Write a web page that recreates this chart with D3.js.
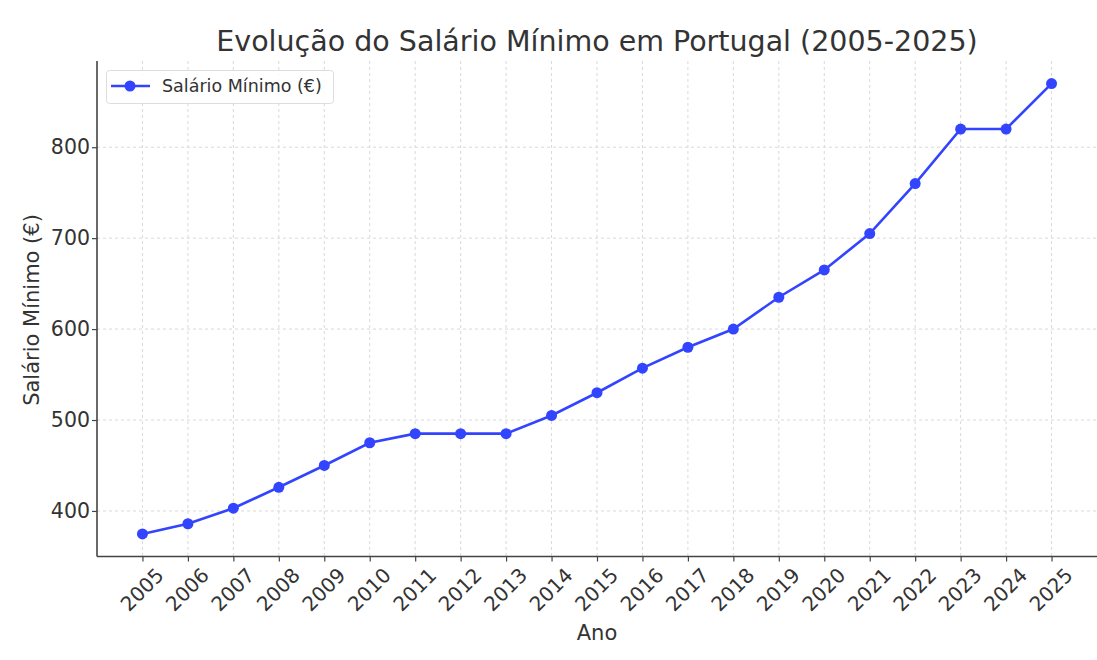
<!DOCTYPE html>
<html><head><meta charset="utf-8">
<script src="https://cdn.jsdelivr.net/npm/d3@7"></script>
<style>body{margin:0;background:#fff}svg{display:block}text{font-family:"DejaVu Sans",sans-serif;fill:#333}</style>
</head><body><svg id="c" width="1097" height="660"></svg>
<script>
const years = [2005,2006,2007,2008,2009,2010,2011,2012,2013,2014,2015,2016,2017,2018,2019,2020,2021,2022,2023,2024,2025];
const salario = [374.7,385.9,403,426,450,475,485,485,485,505,530,557,580,600,635,665,705,760,820,820,870];
const yTicks = [400,500,600,700,800];
const title = "Evolução do Salário Mínimo em Portugal (2005-2025)";
const seriesName = "Salário Mínimo (€)";
const xLabel = "Ano", yLabel = "Salário Mínimo (€)";

const svg = d3.select("#c");
const L=97,R=1097,T=61,B=556.5;
const x = d3.scaleLinear().domain([2004,2026]).range([L,R]);
const y = d3.scaleLinear().domain([349.9,894.8]).range([B,T]);
const color="#3344ff";

// grid
svg.append("g").selectAll("line").data(years).join("line")
 .attr("x1",d=>x(d)).attr("x2",d=>x(d)).attr("y1",T).attr("y2",B)
 .attr("stroke","#d9d9d9").attr("stroke-dasharray","3,3").attr("stroke-width",1);
svg.append("g").selectAll("line").data(yTicks).join("line")
 .attr("x1",L).attr("x2",R).attr("y1",d=>y(d)).attr("y2",d=>y(d))
 .attr("stroke","#d9d9d9").attr("stroke-dasharray","3,3").attr("stroke-width",1);

// axes
const xa = svg.append("g").attr("transform",`translate(0,${B})`)
 .call(d3.axisBottom(x).tickValues(years).tickFormat(d3.format("d")).tickSizeOuter(0).tickSize(5));
xa.select(".domain").attr("stroke","#444").attr("stroke-width",1.6).attr("d",`M${L},0H${R}`);
xa.selectAll(".tick line").attr("stroke","#444").attr("stroke-width",1.2);
xa.selectAll(".tick text").attr("font-size",20).attr("fill","#333")
 .attr("text-anchor","middle").attr("dominant-baseline","central").attr("dy",null)
 .attr("y",null).attr("transform","translate(-1,33) rotate(-45)");
const ya = svg.append("g").attr("transform",`translate(${L},0)`)
 .call(d3.axisLeft(y).tickValues(yTicks).tickSizeOuter(0).tickSize(5));
ya.select(".domain").attr("stroke","#444").attr("stroke-width",1.6).attr("d",`M0,${T}V${B}`);
ya.selectAll(".tick line").attr("stroke","#444").attr("stroke-width",1.2);
ya.selectAll(".tick text").attr("font-size",20.5).attr("fill","#333").attr("x",-7);

// line
svg.append("path").datum(years.map((d,i)=>[d,salario[i]]))
 .attr("fill","none").attr("stroke",color).attr("stroke-width",2.6)
 .attr("d",d3.line().x(d=>x(d[0])).y(d=>y(d[1])));
svg.append("g").selectAll("circle").data(years.map((d,i)=>[d,salario[i]])).join("circle")
 .attr("cx",d=>x(d[0])).attr("cy",d=>y(d[1])).attr("r",5.5).attr("fill",color);

// title & labels
svg.append("text").attr("x",597).attr("y",51).attr("text-anchor","middle").attr("font-size",28.5).text(title);
svg.append("text").attr("x",597).attr("y",640).attr("text-anchor","middle").attr("font-size",21).text(xLabel);
svg.append("text").attr("transform","translate(39,310) rotate(-90)").attr("text-anchor","middle").attr("font-size",21).text(yLabel);

// legend
const lg = svg.append("g");
lg.append("rect").attr("x",106.5).attr("y",70.5).attr("width",227).attr("height",33).attr("rx",3)
 .attr("fill","#fff").attr("fill-opacity",0.85).attr("stroke","#ddd");
lg.append("line").attr("x1",111).attr("x2",150).attr("y1",86).attr("y2",86).attr("stroke",color).attr("stroke-width",2.6);
lg.append("circle").attr("cx",130).attr("cy",86).attr("r",5.5).attr("fill",color);
lg.append("text").attr("x",162).attr("y",92).attr("font-size",17.5).text(seriesName);
</script></body></html>
